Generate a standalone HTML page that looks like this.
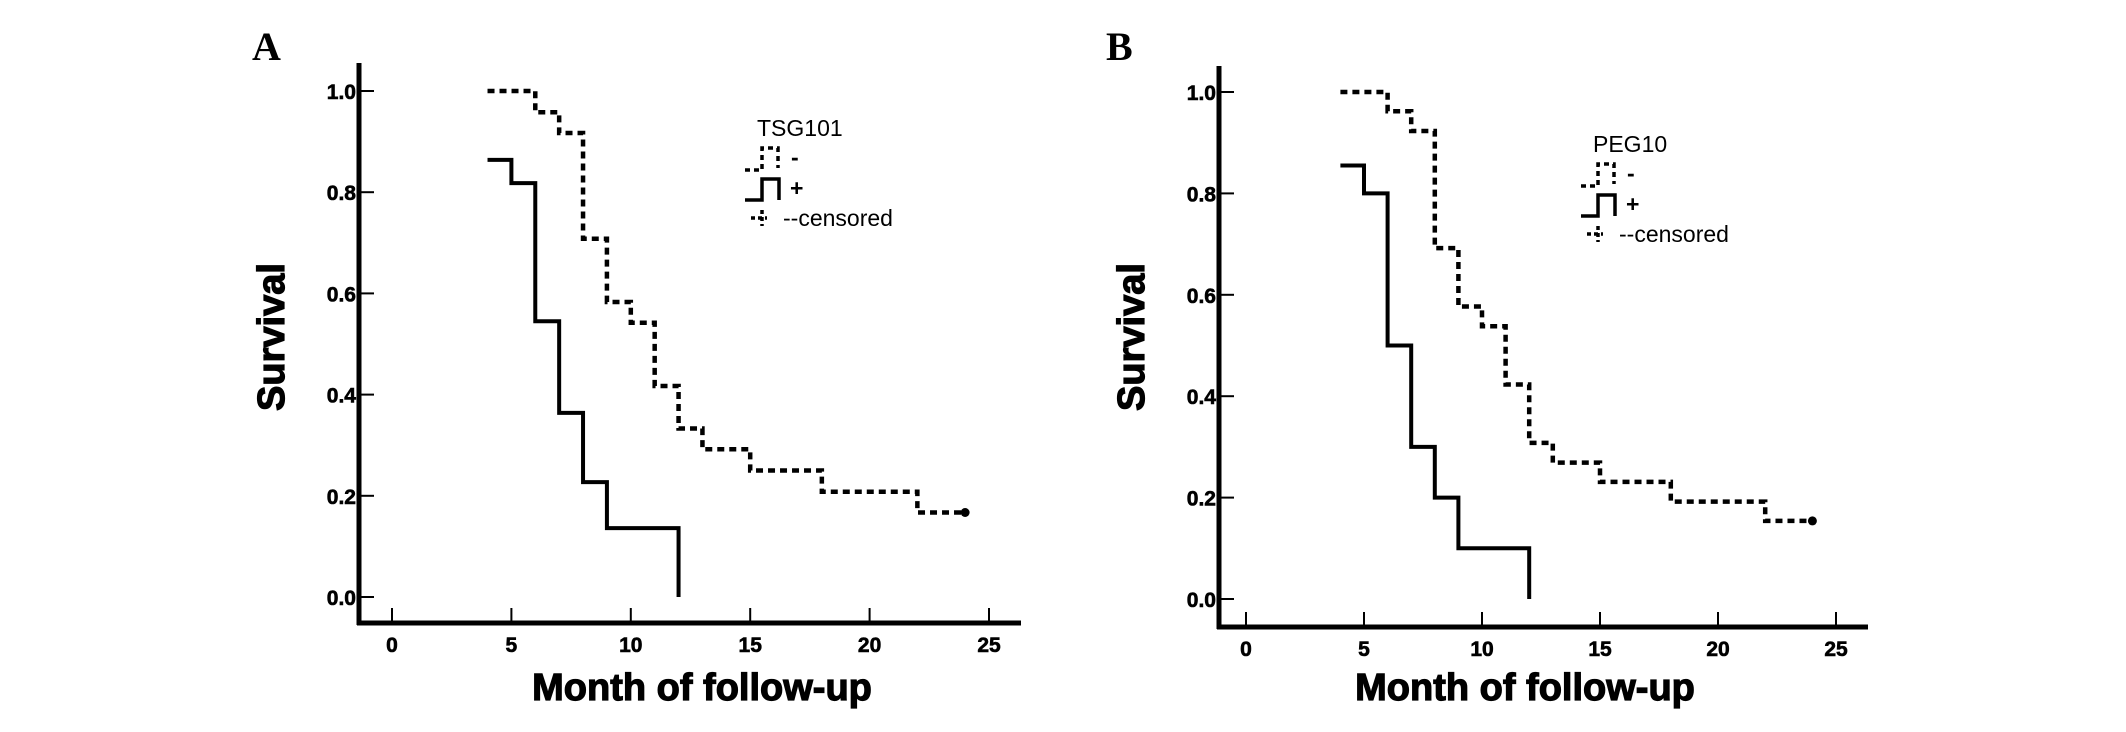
<!DOCTYPE html>
<html><head><meta charset="utf-8">
<style>
html,body{margin:0;padding:0;background:#fff;}
svg{display:block;}
text{font-family:"Liberation Sans",Arial,sans-serif;fill:#000;}
.tick{font-weight:bold;font-size:21px;stroke:#000;stroke-width:0.6px;}
.title{font-weight:bold;font-size:38px;stroke:#000;stroke-width:1.2px;}
.panel{font-family:"Liberation Serif",serif;font-weight:bold;font-size:40px;}
.leg{font-size:23px;}
</style></head>
<body>
<svg id="chart" width="2126" height="732" viewBox="0 0 2126 732" xmlns="http://www.w3.org/2000/svg"></svg>
<script>
const NS="http://www.w3.org/2000/svg";
const xTicks=[0,5,10,15,20,25];
const yTicks=[0.0,0.2,0.4,0.6,0.8,1.0];
const yTickLabels=["0.0","0.2","0.4","0.6","0.8","1.0"];
// Panel A (TSG101)
const aNegTimes=[4,6,7,8,9,10,11,12,13,15,18,22,24];
const aNegSurv=[1.0,0.958,0.917,0.708,0.583,0.542,0.417,0.333,0.292,0.25,0.208,0.167,0.167];
const aPosTimes=[4,5,6,7,8,9,12,12];
const aPosSurv=[0.864,0.818,0.545,0.364,0.227,0.136,0.0,0.0];
// Panel B (PEG10)
const bNegTimes=[4,6,7,8,9,10,11,12,13,15,18,22,24];
const bNegSurv=[1.0,0.962,0.923,0.692,0.577,0.538,0.423,0.308,0.269,0.231,0.192,0.154,0.154];
const bPosTimes=[4,5,6,7,8,9,12,12];
const bPosSurv=[0.855,0.80,0.50,0.30,0.20,0.10,0.0,0.0];

const svg=document.getElementById('chart');
function el(tag,attrs,parent){const e=document.createElementNS(NS,tag);for(const k in attrs)e.setAttribute(k,attrs[k]);(parent||svg).appendChild(e);return e;}

function panel(cfg){
  const g=el('g',{});
  
  
  const xs=t=>cfg.x0+(cfg.x25-cfg.x0)*t/25;
  const ys=v=>cfg.y0+(cfg.y1-cfg.y0)*v;
  const ya=el('line',{x1:cfg.ax,y1:cfg.atop,x2:cfg.ax,y2:cfg.ay+2,stroke:'#000','stroke-width':5},g);
  
  
  const xa=el('line',{x1:cfg.ax-2,y1:cfg.ay,x2:cfg.aend,y2:cfg.ay,stroke:'#000','stroke-width':5},g);
  
  
  xTicks.forEach(t=>{
    const l=el('line',{x1:xs(t),y1:cfg.ay,x2:xs(t),y2:cfg.ay-15,stroke:'#000','stroke-width':2},g);
    
    
    const tx=el('text',{x:xs(t),y:cfg.ay+29,'text-anchor':'middle',class:'tick'},g);
    tx.textContent=t;
    
    
  });
  yTicks.forEach((v,i)=>{
    const l=el('line',{x1:cfg.ax,y1:ys(v),x2:cfg.ax+15,y2:ys(v),stroke:'#000','stroke-width':2},g);
    
    
    const tx=el('text',{x:cfg.ax-3,y:ys(v)+8,'text-anchor':'end',class:'tick'},g);
    tx.textContent=yTickLabels[i];
    
    
  });
  function step(times,surv,dashed,name){
    let d='M'+xs(times[0])+','+ys(surv[0]);
    for(let i=1;i<times.length;i++){d+=' H'+xs(times[i])+' V'+ys(surv[i]);}
    const p=el('path',{d:d,fill:'none',stroke:'#000','stroke-width':dashed?4.5:4,'stroke-dasharray':dashed?'7 5':'none'},g);
    
    
  }
  step(cfg.negT,cfg.negS,true,'curve-negative');
  step(cfg.posT,cfg.posS,false,'curve-positive');
  const n=cfg.negT.length-1;
  const c=el('circle',{cx:xs(cfg.negT[n]),cy:ys(cfg.negS[n]),r:4.5,fill:'#000'},g);
  
  
  const pl=el('text',{x:cfg.plx,y:60,class:'panel'},g);pl.textContent=cfg.letter;
  
  
  const yt=el('text',{x:0,y:0,class:'title','text-anchor':'middle',transform:'translate('+(cfg.ax-75)+',337) rotate(-90)'},g);yt.textContent='Survival';
  
  
  const xt=el('text',{x:cfg.xtx,y:700,class:'title','text-anchor':'middle'},g);xt.textContent='Month of follow-up';
  
  
  const lg=el('g',{transform:'translate('+cfg.lx+','+cfg.ly+')'},g);
  
  
  const lt=el('text',{x:0,y:0,class:'leg'},lg);lt.textContent=cfg.gene;
  
  
  const li1=el('path',{d:'M-12,34 H5 V12 H21 V32',fill:'none',stroke:'#000','stroke-width':3.5,'stroke-dasharray':'5 4'},lg);
  
  
  const m=el('text',{x:34,y:29,class:'leg','font-size':'18','font-weight':'bold'},lg);m.textContent='-';
  
  
  const li2=el('path',{d:'M-12,64 H5 V43 H22 V64',fill:'none',stroke:'#000','stroke-width':3.5},lg);
  
  
  const pz=el('text',{x:33,y:60,class:'leg','font-size':'18','font-weight':'bold'},lg);pz.textContent='+';
  
  
  const li3=el('path',{d:'M-6,82 H10 M5,74 V90',fill:'none',stroke:'#000','stroke-width':3.5,'stroke-dasharray':'4 3'},lg);
  
  
  const cz=el('text',{x:26,y:90,class:'leg'},lg);cz.textContent='--censored';
  
  
}
panel({name:'panel-a',letter:'A',gene:'TSG101',ax:359,atop:63,ay:623,aend:1021,x0:392,x25:989,y0:597,y1:91,
  negT:aNegTimes,negS:aNegSurv,posT:aPosTimes,posS:aPosSurv,plx:252,xtx:702,lx:757,ly:136});
panel({name:'panel-b',letter:'B',gene:'PEG10',ax:1219,atop:66,ay:627,aend:1868,x0:1246,x25:1836,y0:599,y1:92,
  negT:bNegTimes,negS:bNegSurv,posT:bPosTimes,posS:bPosSurv,plx:1106,xtx:1525,lx:1593,ly:152});
</script>
</body></html>
